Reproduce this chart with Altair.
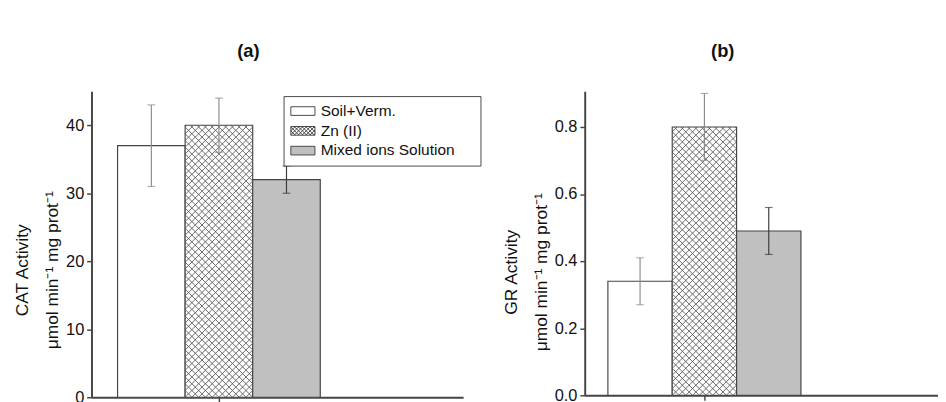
import math
import altair as alt
import pandas as pd

# ---------------- data ----------------
series = ["Soil+Verm.", "Zn (II)", "Mixed ions Solution"]
cat_mean = [37.0, 40.0, 32.0]
cat_err = [6.0, 4.0, 2.0]
gr_mean = [0.34, 0.80, 0.49]
gr_err = [0.07, 0.10, 0.07]

cat_ticks = [0, 5, 10, 15, 20, 25, 30, 35, 40, 45]
gr_ticks = [0.0, 0.1, 0.2, 0.3, 0.4, 0.5, 0.6, 0.7, 0.8, 0.9]

# ---------------- styling ----------------
bar_fill = ["#ffffff", "#ffffff", "#c0c0c0"]
err_color = ["#8c8c8c", "#8c8c8c", "#3a3a3a"]
hatched = [False, True, False]
FONT = "Liberation Sans"
EDGE = "#444444"
HATCH = "#555555"

A_W, A_H, A_XDOM, A_YDOM = 385, 317, [-0.886, 4.614], [0, 45]
B_W, B_H, B_XDOM, B_YDOM = 366, 315, [-0.86, 4.63], [0, 0.9065]


def table(means, errs):
    n = len(series)
    return pd.DataFrame({
        "series": series,
        "pos": list(range(n)),
        "left": [i - 0.5 for i in range(n)],
        "right": [i + 0.5 for i in range(n)],
        "base": [0.0] * n,
        "mean": means,
        "lo": [m - e for m, e in zip(means, errs)],
        "hi": [m + e for m, e in zip(means, errs)],
        "fill": bar_fill,
        "ecol": err_color,
        "hatched": hatched,
    })


def hatch_lines(df, W, H, xdom, ydom, step=7.0):
    """Cross-hatch fill for the hatched bar, clipped to the bar rectangle."""
    sx = W / (xdom[1] - xdom[0])
    sy = H / (ydom[1] - ydom[0])
    rows = []
    for _, r in df[df["hatched"]].iterrows():
        X0 = (r["left"] - xdom[0]) * sx
        X1 = (r["right"] - xdom[0]) * sx
        Y1 = r["mean"] * sy
        kmax = int(math.ceil((X1 - X0 + Y1) / step)) + 1
        for k in range(-kmax, kmax + 1):
            c = X0 + k * step
            xa, xb = max(X0, c), min(X1, c + Y1)
            if xb - xa > 0.01:
                rows.append((xa, xa - c, xb, xb - c))
            xa, xb = max(X0, c - Y1), min(X1, c)
            if xb - xa > 0.01:
                rows.append((xa, c - xa, xb, c - xb))
    return pd.DataFrame({
        "hx": [a / sx + xdom[0] for a, _, _, _ in rows],
        "hy": [b / sy for _, b, _, _ in rows],
        "hx2": [c / sx + xdom[0] for _, _, c, _ in rows],
        "hy2": [d / sy for _, _, _, d in rows],
    })


def legend_paths():
    hw, hh = 1.56, 0.56
    rect = f"M{-hw},{-hh}H{hw}V{hh}H{-hw}Z"
    segs = []
    step = 0.5
    for k in range(-12, 13):
        c = -hw + k * step
        xa, xb = max(-hw, c - hh), min(hw, c + hh)
        if xb - xa > 1e-3:
            segs.append(f"M{xa:.3f},{(xa - c):.3f}L{xb:.3f},{(xb - c):.3f}")
            segs.append(f"M{xa:.3f},{(c - xa):.3f}L{xb:.3f},{(c - xb):.3f}")
    return [rect, rect + "".join(segs), rect]


def panel(means, errs, W, H, xdom, ydom, ticks, test, fmt, ytitle, title_y,
          ptitle, title_dx, with_legend):
    df = table(means, errs)
    hd = hatch_lines(df, W, H, xdom, ydom)
    center = sum(df["pos"]) / len(df)

    xscale = alt.Scale(domain=xdom, nice=False, zero=False)
    yscale = alt.Scale(domain=ydom, nice=False, zero=True)

    bars = alt.Chart(df).mark_bar(stroke=EDGE, strokeWidth=1.2).encode(
        x=alt.X("left:Q", scale=xscale, title=None,
                axis=alt.Axis(values=[center], labels=False, tickSize=5)),
        x2="right:Q",
        y=alt.Y("mean:Q", scale=yscale, title=ytitle,
                axis=alt.Axis(values=ticks, format=fmt, titleY=title_y,
                              labelExpr=f"{test} ? datum.label : ''",
                              tickSize={"condition": {"test": test, "value": 5}, "value": 3})),
        y2="base:Q",
        fill=alt.Fill("fill:N", scale=None),
    )

    hatch = alt.Chart(hd).mark_rule(color=HATCH, strokeWidth=0.9).encode(
        x=alt.X("hx:Q", title=None), x2="hx2:Q",
        y=alt.Y("hy:Q", title=ytitle), y2="hy2:Q",
    )

    err = alt.Chart(df).mark_errorbar(ticks=alt.MarkConfig(size=8), thickness=1.2).encode(
        x=alt.X("pos:Q", title=None),
        y=alt.Y("lo:Q", title=ytitle), y2="hi:Q",
        color=alt.Color("ecol:N", scale=None),
    )

    layers = [bars, hatch, err]
    if with_legend:
        leg = alt.Legend(title="\u00a0", titleOrient="right", titlePadding=20,
                         titleFontSize=16,
                         orient="none", legendX=199, legendY=5,
                         strokeColor=EDGE, fillColor="white", padding=7,
                         labelFontSize=16, labelColor="#111", labelOffset=10,
                         symbolSize=256, symbolOffset=4.5, symbolOpacity=1,
                         symbolStrokeColor="#333", symbolStrokeWidth=1,
                         rowPadding=3.5, cornerRadius=0)
        pts = alt.Chart(df).mark_point(filled=True, opacity=0, size=256).encode(
            x=alt.X("pos:Q", title=None),
            y=alt.Y("mean:Q", title=ytitle),
            fill=alt.Fill("series:N", scale=alt.Scale(domain=series, range=bar_fill), legend=leg),
            shape=alt.Shape("series:N", scale=alt.Scale(domain=series, range=legend_paths()), legend=leg),
        )
        layers.append(pts)

    return alt.layer(*layers).properties(
        width=W, height=H,
        title=alt.TitleParams(ptitle, fontSize=19, fontWeight="bold", font=FONT,
                              anchor="middle", dx=title_dx, offset=31,
                              color="#111"),
    )


YT = "\u03bcmol min\u207b\u00b9 mg prot\u207b\u00b9"
pa = panel(cat_mean, cat_err, A_W, A_H, A_XDOM, A_YDOM, cat_ticks,
           "datum.value % 10 === 0", "d", ["CAT Activity", YT], 185,
           "(a)", -30, True)
pb = panel(gr_mean, gr_err, B_W, B_H, B_XDOM, B_YDOM, gr_ticks,
           "round(datum.value * 10) % 2 === 0", ".1f", ["GR Activity", YT], 187,
           "(b)", -40, False)

chart = alt.concat(pa, pb, columns=2, spacing=41, align="none").properties(
    padding={"left": 6.5, "top": 29, "right": 0, "bottom": 0},
    background="white",
).configure(
    font=FONT,
    view=alt.ViewConfig(stroke=None),
    axis=alt.AxisConfig(
        tickColor=EDGE, tickWidth=1.5, domainColor=EDGE, domainWidth=2,
        grid=False, labelFontSize=17, labelColor="#111", labelPadding=3,
        titleFontSize=18, titleFontWeight="normal", titleColor="#111",
        titlePadding=4, titleLineHeight=31, labelFont=FONT, titleFont=FONT,
    ),
)

chart.save("out.html", embed_options={"renderer": "svg", "actions": False})
